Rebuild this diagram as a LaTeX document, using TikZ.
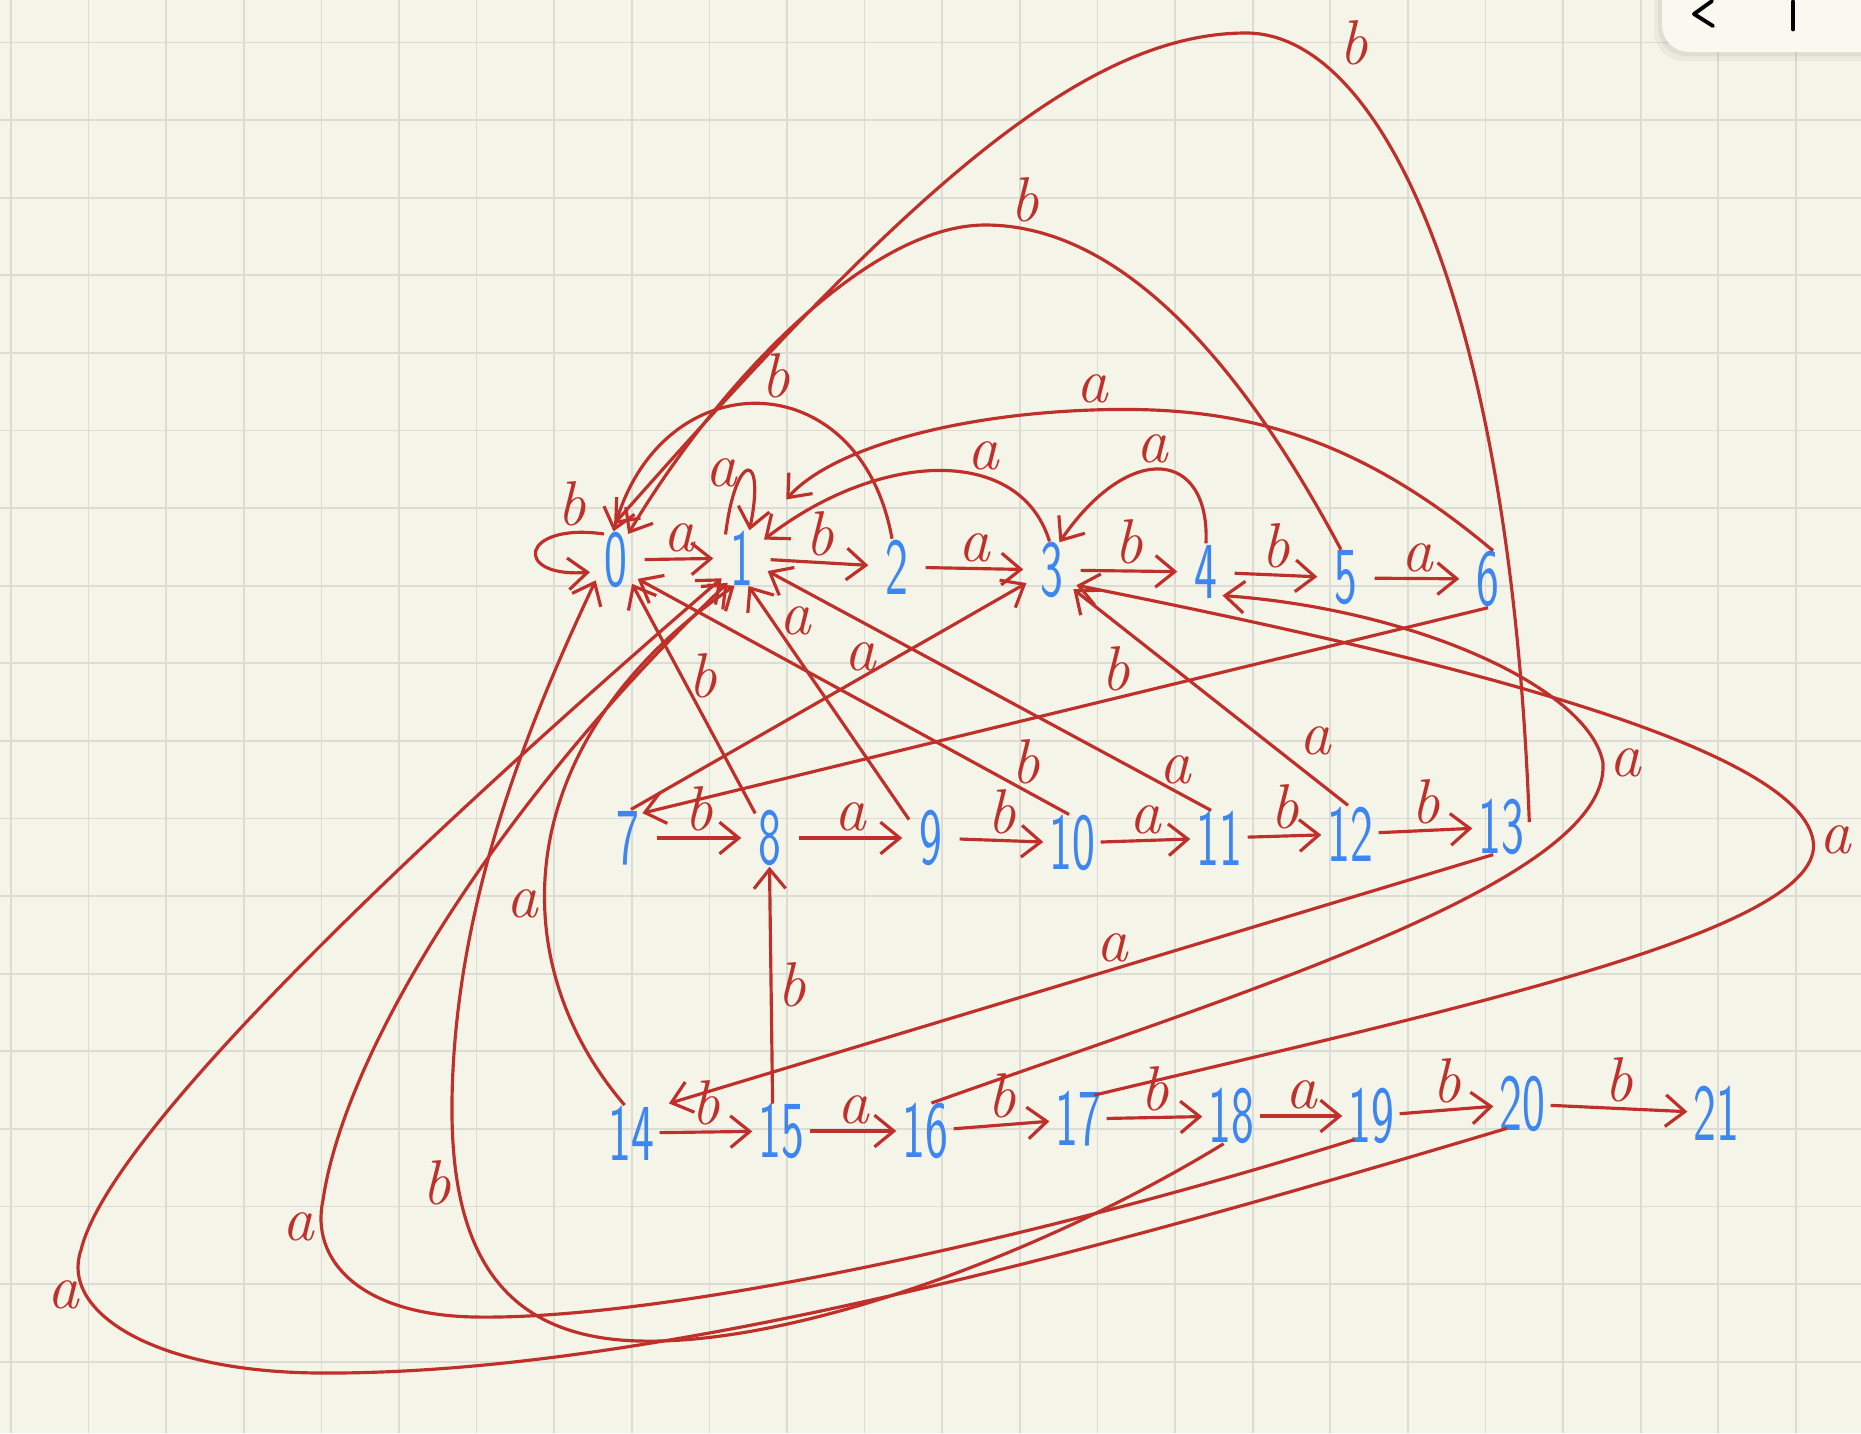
\documentclass[tikz,border=0pt]{standalone}
\usepackage{fontspec}
\usepackage{graphicx}
\usetikzlibrary{arrows.meta}
\definecolor{paper}{HTML}{F5F4E8}
\definecolor{gridgray}{HTML}{DCDCD5}
\definecolor{inkred}{HTML}{C0302A}
\definecolor{inkblue}{HTML}{3D86F2}
\definecolor{barcream}{HTML}{F9F9F1}
\newcommand{\stnum}[1]{\makebox[0pt]{\scalebox{0.6}[1]{#1}}}

\begin{document}
\begin{tikzpicture}[
    x=0.01cm, y=-0.01cm,
    >={Straight Barb[length=5.5pt, width=9pt]},
    % ── shared styles ──
    dfa state/.style={circle, inner sep=0pt, minimum size=0.56cm, text=inkblue,
        font=\sffamily\fontsize{23}{23}\selectfont},
    move/.style={->, draw=inkred, line width=0.9pt},
    lbl/.style={font=\rmfamily\itshape\fontsize{18}{18}\selectfont, text=inkred,
        inner sep=1.5pt},
    grid line/.style={draw=gridgray, line width=0.5pt},
]

% ══════════════════════════════════════════════════════════════════════
%  PAPER (pixel units, y down)
% ══════════════════════════════════════════════════════════════════════
\def\gridX{11} \def\gridY{42.5} \def\gridStep{77.6}
\useasboundingbox (0,0) rectangle (1861,1433);
\clip (0,0) rectangle (1861,1433);
\fill[paper] (0,0) rectangle (1861,1433);
\foreach \i in {0,...,23}
  \draw[grid line] ({\gridX+\gridStep*\i},0) -- ++(0,1433);
\foreach \j in {0,...,17}
  \draw[grid line] (0,{\gridY+\gridStep*\j}) -- ++(1861,0);

% ── viewer toolbar, top right ──
\fill[black, opacity=0.04, rounded corners=0.3cm] (1654,-40) rectangle (1900,61);
\fill[black, opacity=0.05, rounded corners=0.28cm] (1658,-40) rectangle (1900,56);
\fill[barcream, rounded corners=0.27cm] (1662,-40) rectangle (1900,52);
\draw[line width=1.1pt, line cap=round, line join=round] (1712,1) -- (1694,14) -- (1713,26);
\draw[line width=1.4pt, line cap=round] (1793,2) -- (1793,29);

% ══════════════════════════════════════════════════════════════════════
%  STATES
% ══════════════════════════════════════════════════════════════════════
% ── row 1 ──
\node[dfa state] (n0) at (616,560) {\stnum{0}};
\node[dfa state] (n1) at (742,558) {\stnum{1}};
\node[dfa state] (n2) at (897,567) {\stnum{2}};
\node[dfa state] (n3) at (1052,570) {\stnum{3}};
\node[dfa state] (n4) at (1206,572) {\stnum{4}};
\node[dfa state] (n5) at (1346,578) {\stnum{5}};
\node[dfa state] (n6) at (1488,579) {\stnum{6}};
% ── row 2 ──
\node[dfa state] (n7) at (628,838) {\stnum{7}};
\node[dfa state] (n8) at (770,838) {\stnum{8}};
\node[dfa state] (n9) at (931,838) {\stnum{9}};
\node[dfa state] (n10) at (1072,843) {\stnum{10}};
\node[dfa state] (n11) at (1219,838) {\stnum{11}};
\node[dfa state] (n12) at (1350,834) {\stnum{12}};
\node[dfa state] (n13) at (1501,827) {\stnum{13}};
% ── row 3 ──
\node[dfa state] (n14) at (631,1133) {\stnum{14}};
\node[dfa state] (n15) at (781,1131) {\stnum{15}};
\node[dfa state] (n16) at (925,1131) {\stnum{16}};
\node[dfa state] (n17) at (1078,1119) {\stnum{17}};
\node[dfa state] (n18) at (1231,1116) {\stnum{18}};
\node[dfa state] (n19) at (1371,1116) {\stnum{19}};
\node[dfa state] (n20) at (1522,1104) {\stnum{20}};
\node[dfa state] (n21) at (1716,1113) {\stnum{21}};

% ══════════════════════════════════════════════════════════════════════
%  FORWARD MOVES
% ══════════════════════════════════════════════════════════════════════
\draw[move] (n0) -- node[lbl, above] {a} (n1);
\draw[move] (n1) -- node[lbl, above] {b} (n2);
\draw[move] (n2) -- node[lbl, above] {a} (n3);
\draw[move] (n3) -- node[lbl, above] {b} (n4);
\draw[move] (n4) -- node[lbl, above] {b} (n5);
\draw[move] (n5) -- node[lbl, above] {a} (n6);

\draw[move] (n7) -- node[lbl, above] {b} (n8);
\draw[move] (n8) -- node[lbl, above] {a} (n9);
\draw[move] (n9) -- node[lbl, above] {b} (n10);
\draw[move] (n10) -- node[lbl, above] {a} (n11);
\draw[move] (n11) -- node[lbl, above] {b} (n12);
\draw[move] (n12) -- node[lbl, above] {b} (n13);

\draw[move] (n14) -- node[lbl, above] {b} (n15);
\draw[move] (n15) -- node[lbl, above] {a} (n16);
\draw[move] (n16) -- node[lbl, above] {b} (n17);
\draw[move] (n17) -- node[lbl, above] {b} (n18);
\draw[move] (n18) -- node[lbl, above] {a} (n19);
\draw[move] (n19) -- node[lbl, above] {b} (n20);
\draw[move] (n20) -- node[lbl, above] {b} (n21);

% ── row changes ──
\draw[move] (n6.south) -- node[lbl, pos=0.44, above] {b} (n7.60);
\draw[move, shorten >=0.22cm] (n13.254) -- node[lbl, pos=0.45, above] {a} (n14.54);

% ══════════════════════════════════════════════════════════════════════
%  FALL-BACK MOVES
% ══════════════════════════════════════════════════════════════════════
% ── loops on 0 and 1 ──
\draw[move] (n0.115) .. controls (520,522) and (512,578) .. (n0.205)
    node[lbl, pos=0.15, above] {b};
\draw[move] (n1.125) .. controls (736,450) and (766,450) .. (n1.75)
    node[lbl, pos=0.42, left] {a};

% ── arcs over row 1 ──
\draw[move] (n2.100) .. controls (860,360) and (660,360) .. (n0.95)
    node[lbl, pos=0.45, above] {b};
\draw[move] (n3.95) .. controls (1020,445) and (880,450) .. (n1.40)
    node[lbl, pos=0.35, above] {a};
\draw[move] (n4.north) .. controls (1210,450) and (1130,440) .. (n3.75)
    node[lbl, pos=0.55, above] {a};
\draw[move] (n5.100) .. controls (1240,360) and (1120,225) .. (985,225)
    node[lbl, pos=0.9, above] {b}
    .. controls (870,225) and (720,380) .. (n0.65);
\draw[move, shorten >=0.45cm] (n6.80) .. controls (1350,430) and (1230,405) .. (1092,410)
    node[lbl, above] {a}
    .. controls (950,415) and (830,450) .. (n1.60);
\draw[move, shorten >=0.12cm] (n13.10) .. controls (1510,300) and (1380,33) .. (1246,33)
    node[lbl, pos=0.78, above right] {b}
    .. controls (1080,33) and (900,200) .. (n0.110);

% ── straight back edges from row 2 ──
\draw[move] (n7.84) -- node[lbl, pos=0.58, above] {a} (n3.207);
\draw[move] (n8.121) -- node[lbl, pos=0.6, right] {b} (n0.-56);
\draw[move] (n9.140) -- node[lbl, pos=0.85, right] {a} (n1.-77);
\draw[move] (n10.96) -- node[lbl, pos=0.1, above] {b} (n0.-41);
\draw[move] (n11.106) -- node[lbl, pos=0.08, above] {a} (n1.-27);
\draw[move] (n12.94) -- node[lbl, pos=0.2, above right] {a} (n3.-42);
\draw[move] (n15.107) -- node[lbl, right] {b} (n8.-91);

% ── loops round the right side ──
\draw[move] (n16.77) .. controls (1250,990) and (1610,880) .. (1603,763)
    node[lbl, right] {a}
    .. controls (1590,690) and (1420,610) .. (n4.-55);
\draw[move] (n17.56) .. controls (1450,1010) and (1830,930) .. (1813,840)
    node[lbl, right] {a}
    .. controls (1795,740) and (1400,650) .. (n3.-32);

% ── loops round the left side ──
\draw[move] (n14.103) .. controls (500,960) and (510,740) .. (n1.255)
    node[lbl, pos=0.4, left] {a};
\draw[move] (n18.255) .. controls (1050,1250) and (800,1345) .. (640,1341)
    .. controls (500,1338) and (450,1250) .. (452,1100)
    node[lbl, pos=0.8, left] {b}
    .. controls (455,900) and (530,720) .. (n0.225);
\draw[move] (n19.235) .. controls (1000,1250) and (650,1320) .. (475,1317)
    .. controls (360,1315) and (310,1260) .. (323,1200)
    node[lbl, pos=0.85, left] {a}
    .. controls (345,1050) and (500,800) .. (n1.240);
\draw[move] (n20.238) .. controls (1100,1250) and (650,1375) .. (320,1373)
    .. controls (150,1372) and (60,1310) .. (81,1250)
    node[lbl, pos=0.75, left] {a}
    .. controls (110,1130) and (430,830) .. (n1.225);

\end{tikzpicture}
\end{document}
